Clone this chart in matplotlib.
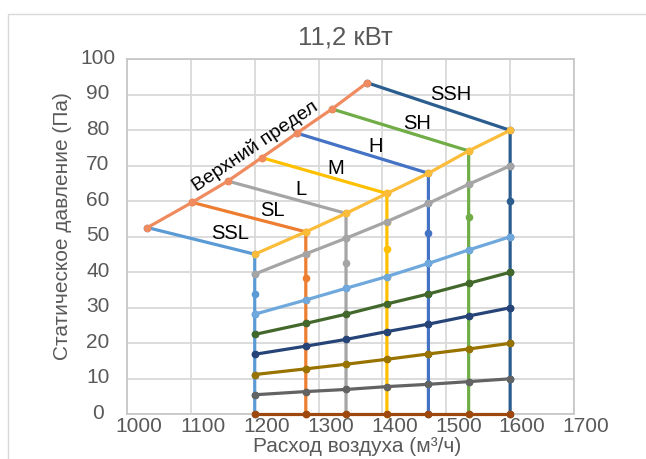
import matplotlib
matplotlib.use('Agg')
import matplotlib.pyplot as plt
from matplotlib.patches import Rectangle
from matplotlib.transforms import ScaledTranslation

plt.rcParams['font.family'] = ['Liberation Sans', 'DejaVu Sans']

# ---------------- data ----------------
modes = ['SSL', 'SL', 'L', 'M', 'H', 'SH', 'SSH']
mode_airflow = [1200, 1280, 1343, 1407, 1472, 1535, 1600]

upper_airflow = [1032, 1102, 1158, 1211, 1266, 1321, 1376]
upper_pressure = [52.6, 59.7, 65.7, 72.3, 79.2, 86.0, 93.4]

# pressure at each mode airflow for each resistance curve (0 ... 80 Pa at 1600)
curve_0 = [0, 0, 0, 0, 0, 0, 0]
curve_10 = [5.5, 6.4, 7.0, 7.8, 8.45, 9.2, 10.0]
curve_20 = [11.2, 12.8, 14.1, 15.5, 17.0, 18.4, 20.0]
curve_30 = [16.9, 19.2, 21.1, 23.3, 25.4, 27.7, 30.0]
curve_40 = [22.5, 25.6, 28.2, 31.1, 33.9, 36.9, 40.0]
curve_50 = [28.2, 32.2, 35.5, 38.8, 42.5, 46.3, 50.0]
curve_60 = [33.8, 38.5, 42.5, 46.6, 51.0, 55.6, 60.0]
curve_70 = [39.5, 45.2, 49.6, 54.3, 59.4, 64.8, 70.0]
curve_80 = [45.1, 51.4, 56.6, 62.2, 67.9, 74.2, 80.0]

curves = [curve_0, curve_10, curve_20, curve_30, curve_40,
          curve_50, curve_60, curve_70, curve_80]

x_ticks = [1000, 1100, 1200, 1300, 1400, 1500, 1600, 1700]
y_ticks = [0, 10, 20, 30, 40, 50, 60, 70, 80, 90, 100]

title = '11,2 кВт'
x_label = 'Расход воздуха (м³/ч)'
y_label = 'Статическое давление (Па)'
upper_label = 'Верхний предел'

# ---------------- styles / layout ----------------
mode_colors = ['#5b9bd5', '#ed7d31', '#a5a5a5', '#ffc000',
               '#4472c4', '#70ad47', '#2b5d8f']
curve_colors = ['#9e480e', '#636363', '#997300', '#264478', '#43682b',
                '#6fa8dc', None, '#a5a5a5', '#fbbc3a']
upper_color = '#ef8b5f'
label_pos = {'SSL': (1162, 51.0), 'SL': (1227, 57.4), 'L': (1273, 63.2),
             'M': (1327, 69.2), 'H': (1389, 75.4), 'SH': (1455, 82.0),
             'SSH': (1507, 90.2)}
upper_label_pos = (1201, 75.4)

W, H = 646, 459
fig = plt.figure(figsize=(W / 100, H / 100), dpi=100)
fig.patch.set_facecolor('white')

# outer chart frame (cropped on right/bottom)
fig.patches.append(Rectangle((8 / W, -0.1), 1.2, 1 - 14 / H + 0.1,
                             transform=fig.transFigure, fill=False,
                             edgecolor='#d9d9d9', lw=1.0))

ax_left, ax_right, ax_top, ax_bottom = 127, 574, 59.3, 414.3
ax = fig.add_axes([ax_left / W, 1 - ax_bottom / H,
                   (ax_right - ax_left) / W, (ax_bottom - ax_top) / H])

lw = 2.3
ms = 4.5

# mode (fan speed) series: upper limit point -> vertical down to 0
for i, m in enumerate(modes):
    ys = [upper_pressure[i]] + [c[i] for c in reversed(curves)]
    xs = [upper_airflow[i]] + [mode_airflow[i]] * len(curves)
    ax.plot(xs, ys, color=mode_colors[i], lw=lw, marker='o', ms=ms,
            zorder=2, solid_joinstyle='round', clip_on=False)

# resistance curves
for c, col in zip(curves, curve_colors):
    if col is None:
        continue
    ax.plot(mode_airflow, c, color=col, lw=lw, marker='o', ms=ms, zorder=3,
            clip_on=False)

# upper limit line
ax.plot(upper_airflow, upper_pressure, color=upper_color, lw=lw,
        marker='o', ms=ms, zorder=4, clip_on=False)

for m in modes:
    x, y = label_pos[m]
    ax.text(x, y, m, fontsize=14.5, color='black', ha='center', va='center',
            zorder=6)
ax.text(upper_label_pos[0], upper_label_pos[1], upper_label, fontsize=14,
        color='black', ha='center', va='center', rotation=34,
        rotation_mode='anchor', zorder=6)

ax.set_xlim(1000, 1700)
ax.set_ylim(0, 100)
ax.set_xticks(x_ticks)
ax.set_yticks(y_ticks)
ax.tick_params(length=0, labelsize=15, labelcolor='#595959')
ax.tick_params(axis='x', pad=2)
ax.tick_params(axis='y', pad=21)
for lab in ax.get_yticklabels():
    lab.set_horizontalalignment('center')
    lab.set_transform(lab.get_transform() +
                      ScaledTranslation(0, 0.03, fig.dpi_scale_trans))
for lab in ax.get_xticklabels():
    lab.set_transform(lab.get_transform() +
                      ScaledTranslation(0.12, 0, fig.dpi_scale_trans))
ax.grid(True, color='#d9d9d9', lw=1.3)
ax.set_axisbelow(True)
for s in ax.spines.values():
    s.set_color('#c8c8c8')
    s.set_linewidth(1.3)

fig.text(345 / W, 1 - 38 / H, title, fontsize=18.5, color='#595959',
         ha='center', va='center')
fig.text(357 / W, 1 - 447 / H, x_label, fontsize=15, color='#595959',
         ha='center', va='center')
fig.text(63 / W, 1 - 226 / H, y_label, fontsize=15, color='#595959',
         ha='center', va='center', rotation=90)

fig.savefig('out.png', dpi=100)
